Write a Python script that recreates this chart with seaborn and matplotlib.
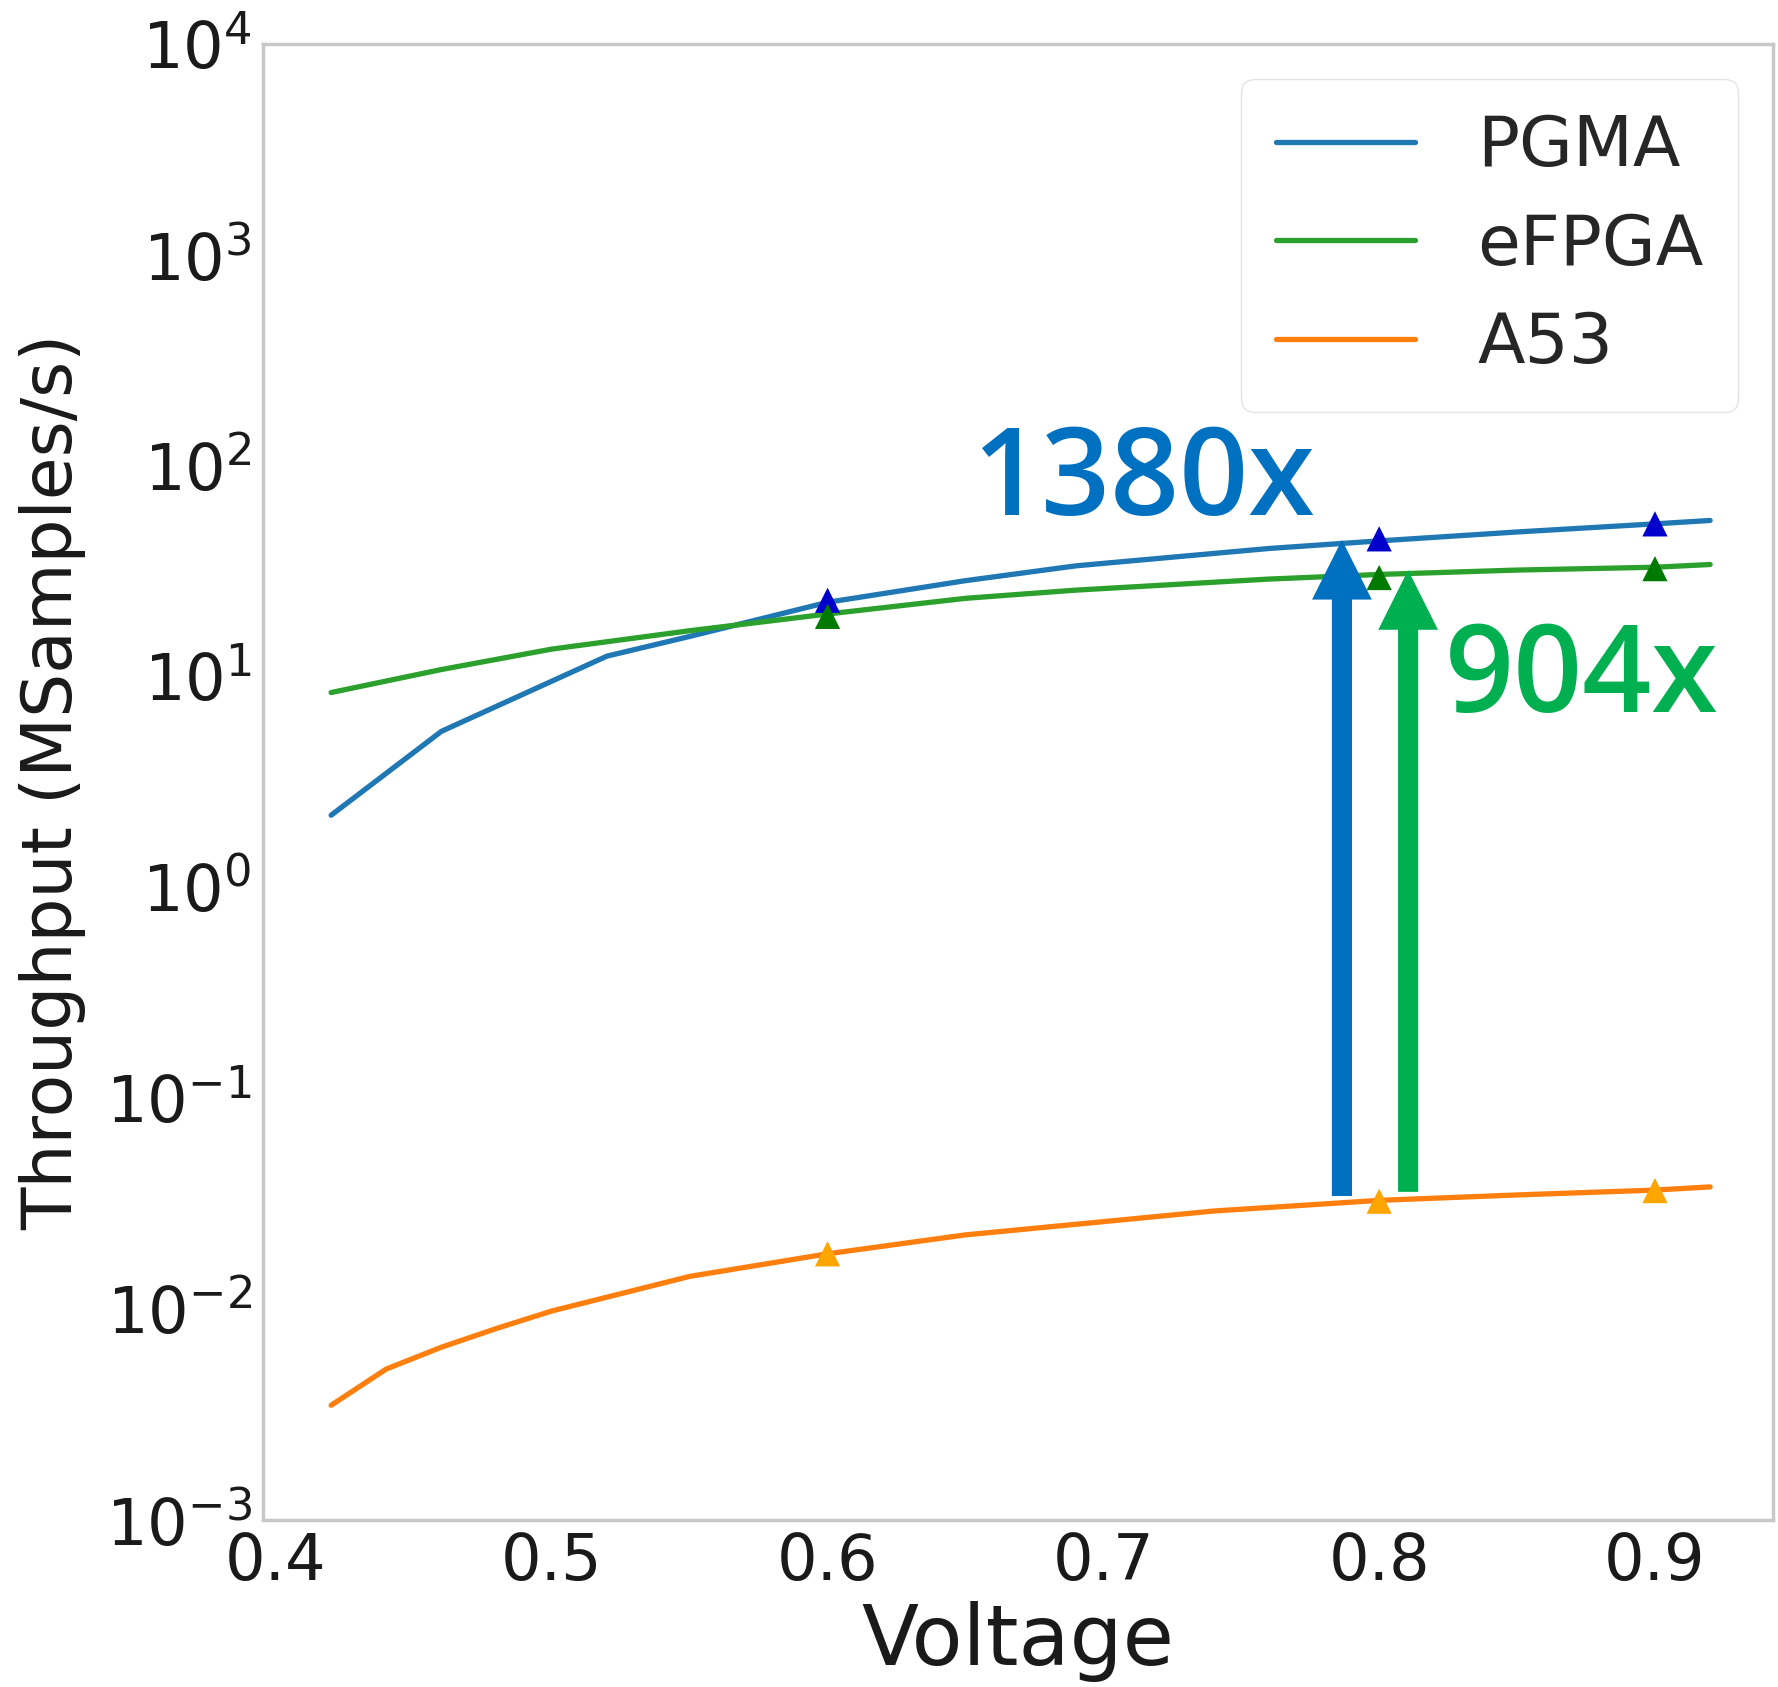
import numpy as np
import pandas as pd
import matplotlib
matplotlib.use("Agg")
import matplotlib.pyplot as plt
import seaborn as sns

# ---- data ----
series_names = ["PGMA", "eFPGA", "A53"]

pgma_v = [0.42, 0.46, 0.52, 0.55, 0.60, 0.65, 0.69, 0.76, 0.80, 0.85, 0.90, 0.92]
pgma_t = [2.2, 5.5, 12.5, 15.5, 22.5, 28.5, 33.5, 40.5, 44.0, 48.5, 53.0, 55.0]

efpga_v = [0.42, 0.46, 0.50, 0.55, 0.60, 0.65, 0.69, 0.76, 0.80, 0.85, 0.90, 0.92]
efpga_t = [8.4, 10.8, 13.5, 16.5, 19.8, 23.5, 25.7, 29.0, 30.5, 32.0, 33.0, 34.0]

a53_v = [0.42, 0.44, 0.46, 0.48, 0.50, 0.55, 0.60, 0.65, 0.70, 0.74, 0.80, 0.85, 0.90, 0.92]
a53_t = [0.0035, 0.0052, 0.0066, 0.0081, 0.0098, 0.0143, 0.0183, 0.0225, 0.0260,
         0.0292, 0.0328, 0.0348, 0.0367, 0.0380]

marker_v = [0.6, 0.8, 0.9]
pgma_marker_t = [23.0, 45.0, 53.0]
efpga_marker_t = [19.3, 29.5, 32.5]
a53_marker_t = [0.0183, 0.0325, 0.0365]

arrow_v = [0.7865, 0.8105]
arrow_from = [0.0344, 0.0360]
arrow_to = [44.5, 32.0]
arrow_labels = ["1380x", "904x"]

xticks = [0.4, 0.5, 0.6, 0.7, 0.8, 0.9]

line_colors = {"PGMA": "#1f77b4", "eFPGA": "#2ca02c", "A53": "#ff7f0e"}
marker_colors = {"PGMA": "#0000cc", "eFPGA": "#007a00", "A53": "#ffa500"}
arrow_colors = ["#0070C0", "#00B050"]

# ---- build frame ----
df = pd.concat([
    pd.DataFrame({"Voltage": pgma_v, "Throughput": pgma_t, "Series": "PGMA"}),
    pd.DataFrame({"Voltage": efpga_v, "Throughput": efpga_t, "Series": "eFPGA"}),
    pd.DataFrame({"Voltage": a53_v, "Throughput": a53_t, "Series": "A53"}),
], ignore_index=True)
mk = pd.concat([
    pd.DataFrame({"Voltage": marker_v, "Throughput": pgma_marker_t, "Series": "PGMA"}),
    pd.DataFrame({"Voltage": marker_v, "Throughput": efpga_marker_t, "Series": "eFPGA"}),
    pd.DataFrame({"Voltage": marker_v, "Throughput": a53_marker_t, "Series": "A53"}),
], ignore_index=True)

sns.set_style("white")
plt.rcParams["font.family"] = ["DejaVu Sans"]

fig = plt.figure(figsize=(17.78, 16.87), dpi=100)
ax = fig.add_axes([263 / 1778, 1 - 1520 / 1687, (1773 - 263) / 1778, (1520 - 44) / 1687])

sns.lineplot(data=df, x="Voltage", y="Throughput", hue="Series",
             hue_order=series_names, palette=line_colors, linewidth=3.8,
             sort=False, ax=ax)
sns.scatterplot(data=mk, x="Voltage", y="Throughput", hue="Series",
                hue_order=series_names, palette=marker_colors, marker="^",
                s=330, edgecolor="none", legend=False, ax=ax, zorder=3)

ax.set_yscale("log")
ax.set_ylim(1e-3, 1e4)
ax.set_xlim(0.3953, 0.9428)
ax.set_xticks(xticks)
ax.set_xticklabels([f"{t:.1f}" for t in xticks])
ax.set_yticks([10.0 ** k for k in range(-3, 5)])
ax.yaxis.set_minor_locator(matplotlib.ticker.NullLocator())
ax.tick_params(axis="both", labelsize=46, length=0, pad=8, labelcolor="#1a1a1a")

ax.set_xlabel("Voltage", fontsize=60, color="#1a1a1a", labelpad=6)
ax.set_ylabel("Throughput (MSamples/s)", fontsize=50, color="#1a1a1a", labelpad=14)

for s in ax.spines.values():
    s.set_color("#c8c8c8")
    s.set_linewidth(2.5)

# arrows and factor labels
for xv, y0, y1, c in zip(arrow_v, arrow_from, arrow_to, arrow_colors):
    ax.annotate("", xy=(xv, y1), xytext=(xv, y0),
                arrowprops=dict(arrowstyle="simple,head_length=0.43,head_width=0.43,tail_width=0.145",
                                mutation_scale=100, color=c, shrinkA=0, shrinkB=0, lw=0),
                zorder=4)

ax.text(0.6527, 58.4, arrow_labels[0], color=arrow_colors[0], fontsize=87,
        fontweight="semibold", family=["Open Sans", "DejaVu Sans"], ha="left", va="baseline")
ax.text(0.8239, 6.79, arrow_labels[1], color=arrow_colors[1], fontsize=87,
        fontweight="semibold", family=["Open Sans", "DejaVu Sans"], ha="left", va="baseline")

leg = ax.legend(loc="upper right", fontsize=50, frameon=True, fancybox=True,
                edgecolor="#dddddd", framealpha=0.8, handlelength=2.0,
                labelspacing=0.45, borderpad=0.5, handletextpad=0.9)
for line in leg.get_lines():
    line.set_linewidth(3.8)

fig.savefig("out.png", dpi=100, facecolor="white")
